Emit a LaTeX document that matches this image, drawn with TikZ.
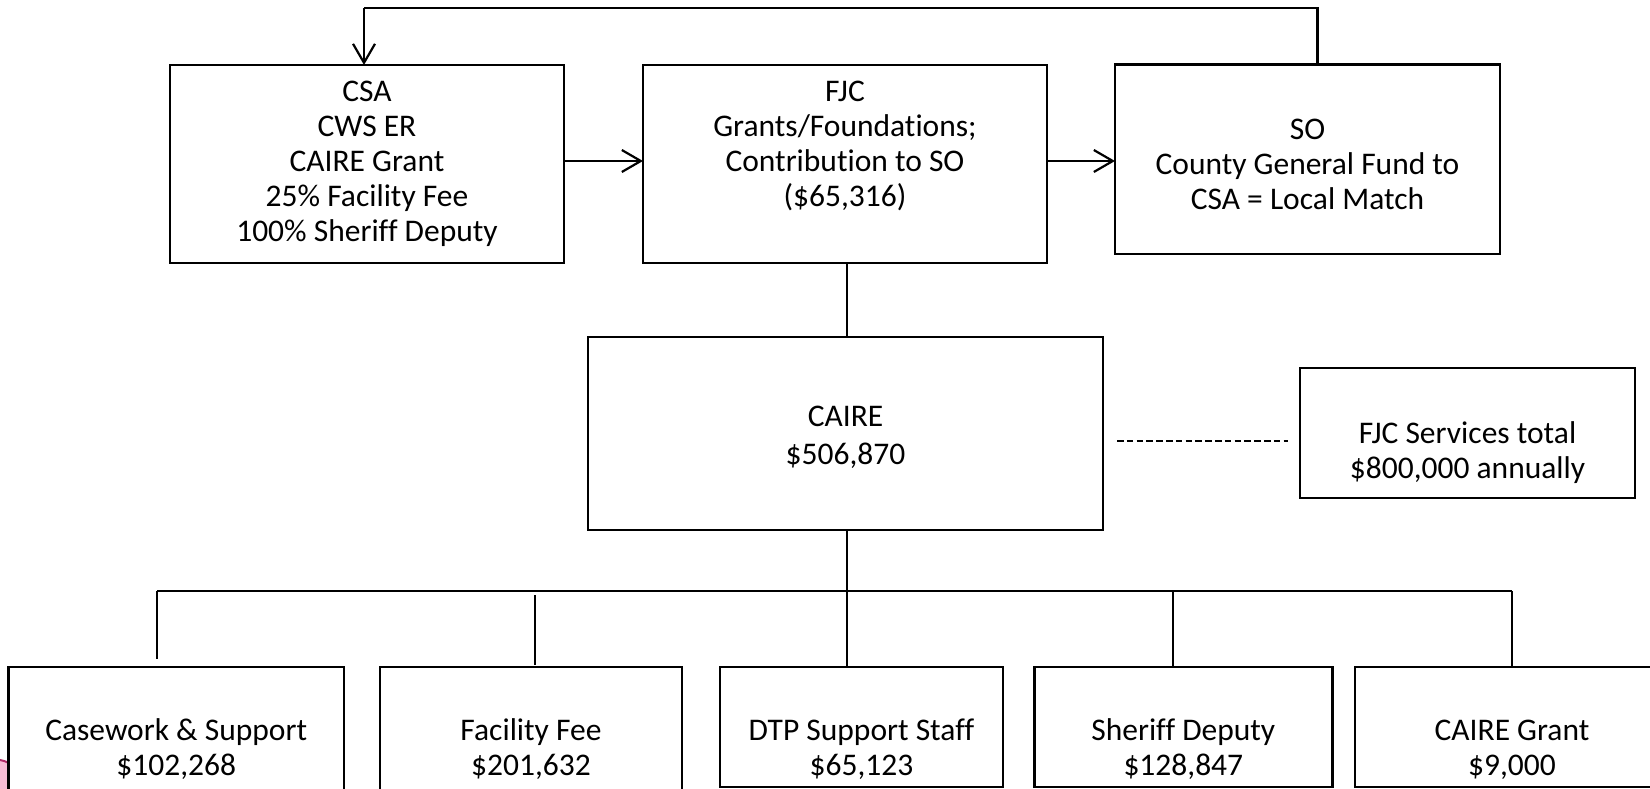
\documentclass[tikz,border=0pt]{standalone}
\usepackage{fontspec}
\setmainfont{Carlito}[Ligatures=NoCommon]
\usetikzlibrary{arrows.meta}
\definecolor{petal}{HTML}{F7BCD4}
\definecolor{petaledge}{HTML}{B02A66}
\begin{document}
\begin{tikzpicture}[x=1pt,y=-1pt,
  box/.style={draw, line width=2.6pt, align=center, inner sep=0pt, outer sep=0pt,
    font=\fontsize{31.5}{35}\selectfont},
  link/.style={line width=2.2pt},
  flow/.style={link, -{Straight Barb[length=19pt,width=22pt,line width=2.2pt]}}
]
\useasboundingbox (0,0) rectangle (1650,789);
\clip (0,0) rectangle (1650,789);

% decorative corner shape, partly hidden behind the first box
\fill[petal] (0,760) .. controls (3,760.5) and (6,761.5) .. (9,763) -- (9,789) -- (0,789) -- cycle;
\draw[petaledge, line width=2pt] (0,760) .. controls (3,760.5) and (6,761.5) .. (9,763);

% funding sources
\node[box, minimum width=394pt, minimum height=198pt] (csa) at (367,164)
  {CSA\strut\\CWS ER\strut\\CAIRE Grant\strut\\25\% Facility Fee\strut\\100\% Sheriff Deputy\strut};
\node[box, minimum width=404pt, minimum height=198pt] (fjc) at (845,164)
  {FJC\strut\\Grants/Foundations;\strut\\Contribution to SO\strut\\(\$65,316)\strut\\\strut};
\node[box, minimum width=385pt, minimum height=189pt] (so) at (1307.5,159.3)
  {\strut\\[-19pt]SO\strut\\County General Fund to\strut\\CSA = Local Match\strut};

% program budget
\node[box, minimum width=515pt, minimum height=193pt] (caire) at (845.5,433.5)
  {\strut\\[-25.6pt]CAIRE\strut\\[3pt]\$506,870\strut};
\node[box, minimum width=335pt, minimum height=130pt] (fjcs) at (1467.5,433)
  {\strut\\[7pt]FJC Services total\strut\\\$800,000 annually\strut};

% budget lines
\node[box, minimum width=335.6pt, minimum height=140pt] (casework) at (176.2,737)
  {\strut\\[-8pt]Casework \& Support\strut\\\$102,268\strut};
\node[box, minimum width=302pt, minimum height=140pt] (facility) at (531,737)
  {\strut\\[-8pt]Facility Fee\strut\\\$201,632\strut};
\node[box, minimum width=283pt, minimum height=120pt] (dtp) at (861.5,727)
  {\strut\\[12pt]DTP Support Staff\strut\\\$65,123\strut};
\node[box, minimum width=298pt, minimum height=120pt] (sheriff) at (1183.3,727)
  {\strut\\[12pt]Sheriff Deputy\strut\\\$128,847\strut};
\node[box, minimum width=314pt, minimum height=120pt] (grant) at (1512,727)
  {\strut\\[12pt]CAIRE Grant\strut\\\$9,000\strut};

% loop back from SO to CSA
\coordinate (loopR) at (1317.5,8.4);
\coordinate (loopL) at (364,8.4);
\draw[link] (so.north -| loopR) -- (loopR) -- (loopL);
\draw[flow] (loopL) -- (csa.north -| loopL);

% flow between sources
\draw[flow] ([yshift=3pt]csa.east) -- ([yshift=3pt]fjc.west);
\draw[flow] ([yshift=3pt]fjc.east) -- ([yshift=3pt]fjc.east -| so.west);
\draw[link] (fjc.south -| 847,0) -- (caire.north -| 847,0);

% dashed link to the services total
\coordinate (dashA) at (1117,441);
\coordinate (dashB) at (1288,441);
\draw[line width=2.8pt, dash pattern=on 6.5pt off 3.3pt] (dashA) -- (dashB);

% distribution bus
\coordinate (busL) at (157,591);
\coordinate (busR) at (1512,591);
\draw[link] (caire.south -| 847,0) -- (847,591);
\draw[link] (busL) -- (busR);
\draw[link] (busL) -- (157,659);
\draw[link] (534.6,595) -- (534.6,665);
\draw[link] (847,591) -- (dtp.north -| 847,0);
\draw[link] (1173,591) -- (sheriff.north -| 1173,0);
\draw[link] (busR) -- (grant.north -| busR);
\end{tikzpicture}
\end{document}
